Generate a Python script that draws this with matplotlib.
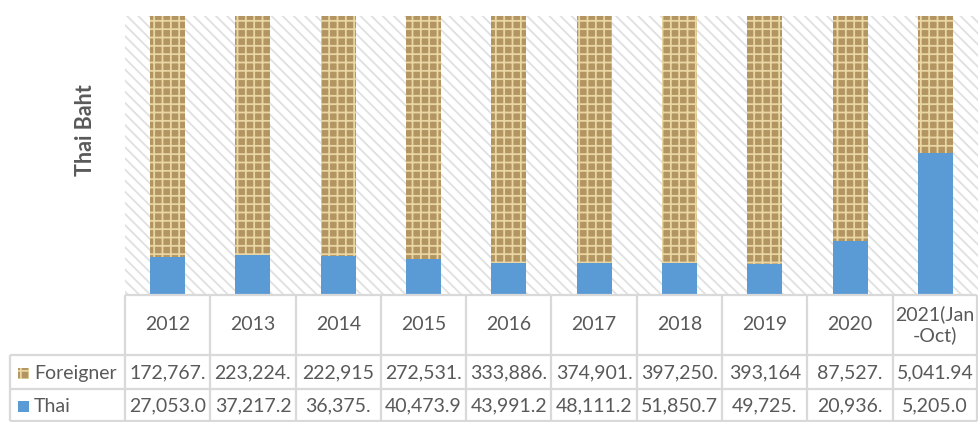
import matplotlib.pyplot as plt
from matplotlib.patches import Rectangle

# === Data ===
years = ["2012", "2013", "2014", "2015", "2016", "2017", "2018", "2019", "2020", "2021(Jan\n-Oct)"]
foreigner = [172767, 223224, 222915, 272531, 333886, 374901, 397250, 393164, 87527, 5041.94]
thai = [27053.0, 37217.2, 36375, 40473.9, 43991.2, 48111.2, 51850.7, 49725, 20936, 5205.0]
foreigner_labels = ["172,767.", "223,224.", "222,915", "272,531.", "333,886.",
                    "374,901.", "397,250.", "393,164", "87,527.", "5,041.94"]
thai_labels = ["27,053.0", "37,217.2", "36,375.", "40,473.9", "43,991.2",
               "48,111.2", "51,850.7", "49,725.", "20,936.", "5,205.0"]

plt.rcParams["font.family"] = ["Lato", "DejaVu Sans"]
plt.rcParams["hatch.linewidth"] = 1.3
text_color = "#595959"
grid_color = "#D9D9D9"
thai_color = "#5B9BD5"
burlap_face = "#B29560"
burlap_hatch = "#E9D6A3"

W, H = 979, 422
fig = plt.figure(figsize=(W / 100, H / 100), dpi=100)

# plot area in pixels
left, right, top, bottom = 125, 979, 16, 295
col_w = 85.3
ax = fig.add_axes([left / W, 1 - bottom / H, (right - left) / W, (bottom - top) / H])

# 100% stacked shares
totals = [f + t for f, t in zip(foreigner, thai)]
thai_share = [t / s for t, s in zip(thai, totals)]
foreigner_share = [f / s for f, s in zip(foreigner, totals)]
x = list(range(len(years)))

# hatched background of the plot area
ax.add_patch(Rectangle((0, 0), 1, 1, transform=ax.transAxes, facecolor="white",
                       edgecolor="#E0E0E0", hatch="\\\\\\", linewidth=0, zorder=0))

ax.bar(x, thai_share, width=0.41, color=thai_color, zorder=2)
ax.bar(x, foreigner_share, width=0.41, bottom=thai_share, facecolor=burlap_face,
       edgecolor=burlap_hatch, hatch="++", linewidth=0, zorder=2)

ax.set_xlim(-0.5, (right - left) / col_w - 0.5)
ax.set_ylim(0, 1)
ax.set_xticks([])
ax.set_yticks([])
for side in ["top", "right", "left", "bottom"]:
    ax.spines[side].set_visible(False)

ax.set_ylabel("Thai Baht", fontsize=15.5, fontweight="bold", color=text_color,
              labelpad=21, y=0.59)

# === Data table below the chart (overlay in pixel coordinates) ===
tab = fig.add_axes([0, 0, 1, 1], facecolor="none")
tab.set_xlim(0, W)
tab.set_ylim(H, 0)
tab.axis("off")

label_left = 10
header_bottom, row1_bottom, row2_bottom = 355, 389, 421
n = len(years)
col_edges = [left + k * col_w for k in range(n + 1)]
col_edges[-1] = min(col_edges[-1], W - 2)
line_kw = dict(color=grid_color, linewidth=1.6, solid_capstyle="butt")

tab.plot([left, col_edges[-1]], [bottom, bottom], **line_kw)
for yy in [header_bottom, row1_bottom, row2_bottom]:
    tab.plot([label_left, col_edges[-1]], [yy, yy], **line_kw)
for xx in col_edges:
    tab.plot([xx, xx], [bottom, row2_bottom], **line_kw)
tab.plot([label_left, label_left], [header_bottom, row2_bottom], **line_kw)

cell_kw = dict(fontsize=14, color=text_color, ha="center", va="center")
for k in range(n):
    cx = (col_edges[k] + col_edges[k + 1]) / 2
    tab.text(cx, (bottom + header_bottom) / 2, years[k], linespacing=1.2, **cell_kw)
    tab.text(cx, (header_bottom + row1_bottom) / 2 + 1, foreigner_labels[k], **cell_kw)
    tab.text(cx, (row1_bottom + row2_bottom) / 2 + 1, thai_labels[k], **cell_kw)

# row labels with legend swatches
fy = (header_bottom + row1_bottom) / 2 + 1
ty = (row1_bottom + row2_bottom) / 2 + 1
tab.add_patch(Rectangle((18, fy - 5.5), 11, 11, facecolor=burlap_face,
                        edgecolor=burlap_hatch, hatch="++", linewidth=0))
tab.add_patch(Rectangle((18, ty - 5.5), 11, 11, facecolor=thai_color, linewidth=0))
tab.text(34, fy, "Foreigner", fontsize=14, color=text_color, ha="left", va="center")
tab.text(34, ty, "Thai", fontsize=14, color=text_color, ha="left", va="center")

fig.savefig("out.png", dpi=100)
